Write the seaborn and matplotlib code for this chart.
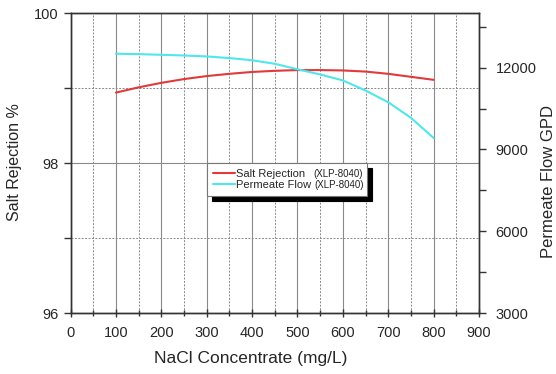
import matplotlib
matplotlib.use("Agg")
import matplotlib.pyplot as plt
import seaborn as sns
import pandas as pd
from matplotlib.ticker import MultipleLocator, FixedLocator

concentration = [100, 150, 200, 250, 300, 350, 400, 450, 500, 550, 600, 650, 700, 750, 800]
salt_rejection = [98.94, 99.01, 99.07, 99.12, 99.16, 99.19, 99.215, 99.23, 99.24, 99.24,
                  99.235, 99.22, 99.19, 99.15, 99.11]
permeate_flow = [12510, 12495, 12470, 12445, 12410, 12350, 12270, 12140, 11940, 11750,
                 11530, 11160, 10730, 10160, 9420]
series_names = ["Salt Rejection", "Permeate Flow"]
series_model = ["(XLP-8040)", "(XLP-8040)"]

df = pd.DataFrame({"conc": concentration, "rej": salt_rejection, "flow": permeate_flow})

sns.set_theme(style="ticks")
plt.rcParams['font.family'] = ['Liberation Sans', 'DejaVu Sans']

fig = plt.figure(figsize=(5.56, 3.74), dpi=100)
ax = fig.add_axes([0.127, 0.163, 0.7345, 0.802])
ax2 = ax.twinx()

red = "#e03a3a"
cyan = "#4fe6ec"

sns.lineplot(data=df, x="conc", y="rej", ax=ax, color=red, lw=1.5, label=series_names[0], legend=False)
sns.lineplot(data=df, x="conc", y="flow", ax=ax2, color=cyan, lw=1.5, label=series_names[1], legend=False)

ax.set_xlim(0, 900)
ax.set_ylim(96, 100)
ax2.set_ylim(3000, 14000)

ax.xaxis.set_major_locator(MultipleLocator(100))
ax.xaxis.set_minor_locator(MultipleLocator(50))
ax.yaxis.set_major_locator(MultipleLocator(2))
ax.yaxis.set_minor_locator(MultipleLocator(1))
ax2.yaxis.set_major_locator(FixedLocator([3000, 6000, 9000, 12000]))
ax2.yaxis.set_minor_locator(FixedLocator([4500, 7500, 10500, 13500]))

ax.grid(which="major", color="#8a8a8a", lw=0.8, ls="-")
ax.grid(which="minor", color="#8a8a8a", lw=0.7, ls=(0, (2, 1.5)))
ax.set_axisbelow(True)

for a in (ax, ax2):
    for s in a.spines.values():
        s.set_color("#333333")
        s.set_linewidth(1.0)

ax.tick_params(axis="x", which="major", direction="inout", length=6, width=1, labelsize=10.5, color="#333333", pad=6)
ax.tick_params(axis="x", which="minor", direction="inout", length=4, width=1, color="#333333")
ax.tick_params(axis="y", which="major", direction="out", length=5, width=1, labelsize=10.5, color="#333333")
ax.tick_params(axis="y", which="minor", direction="out", length=5, width=1, color="#333333")
ax2.tick_params(axis="y", which="major", direction="out", length=5, width=1, labelsize=10.5, color="#333333", pad=7)
ax2.tick_params(axis="y", which="minor", direction="out", length=5, width=1, color="#333333")

ax.set_xlabel("NaCl Concentrate (mg/L)", fontsize=12.5)
ax.set_ylabel("Salt Rejection %", fontsize=11.5)
ax2.set_ylabel("Permeate Flow GPD", fontsize=12)
ax.xaxis.set_label_coords(0.4416, -0.125)
ax.yaxis.set_label_coords(-0.118, 0.503)
ax2.yaxis.set_label_coords(1.152, 0.437)

h1, l1 = ax.get_legend_handles_labels()
h2, l2 = ax2.get_legend_handles_labels()
leg = ax2.legend(h1 + h2, l1 + l2, loc="upper left", bbox_to_anchor=(0.334, 0.3, 0.392, 0.2),
                 mode="expand", borderaxespad=0, fontsize=8, frameon=True, fancybox=False,
                 handlelength=2.0, handletextpad=0.15, labelspacing=0.15,
                 borderpad=0.5,
                 shadow={"ox": 3.6, "oy": -3.6, "color": "black", "alpha": 1})
leg.get_frame().set_edgecolor("#777777")
leg.get_frame().set_linewidth(0.8)
leg.get_frame().set_alpha(1)

fig.canvas.draw()
renderer = fig.canvas.get_renderer()
gaps = [8, 3]
W, H = fig.canvas.get_width_height()
for t, model, gap in zip(leg.get_texts(), series_model, gaps):
    bb = t.get_window_extent(renderer)
    fig.text((bb.x1 + gap) / W, (bb.y0 + bb.y1) / 2 / H, model, fontsize=7,
             ha="left", va="center", color="#222222", zorder=10)

fig.savefig("out.png", dpi=100)
